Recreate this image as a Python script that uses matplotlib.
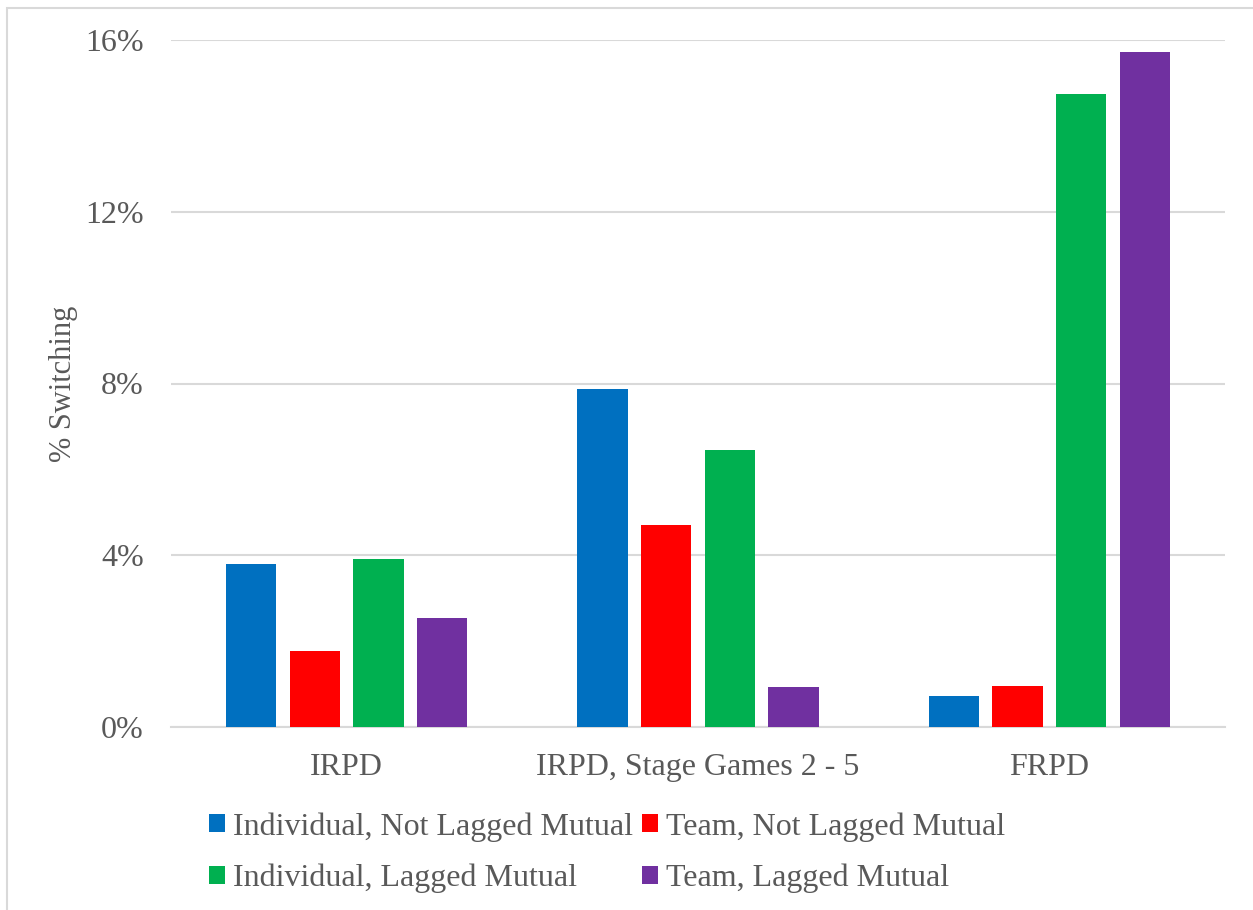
import matplotlib.pyplot as plt
import numpy as np
from matplotlib.patches import Patch, Rectangle
from matplotlib.ticker import FuncFormatter

categories = ['IRPD', 'IRPD, Stage Games 2 - 5', 'FRPD']
series_names = ['Individual, Not Lagged Mutual', 'Team, Not Lagged Mutual',
                'Individual, Lagged Mutual', 'Team, Lagged Mutual']
ind_not_lagged = [3.80, 7.87, 0.72]
team_not_lagged = [1.77, 4.70, 0.95]
ind_lagged = [3.91, 6.45, 14.74]
team_lagged = [2.54, 0.93, 15.72]
y_ticks = [0, 4, 8, 12, 16]

colors = ['#0070C0', '#FF0000', '#00B050', '#7030A0']
text_color = '#595959'
font = 'Liberation Serif'

plt.rcParams['font.family'] = font

fig = plt.figure(figsize=(12.53, 9.10), dpi=100)
W, H = 1253, 910
# light chart border
fig.patches.append(Rectangle((7 / W, -0.1), 1.5, 1 - 8 / H + 0.1, transform=fig.transFigure,
                             fill=False, edgecolor='#D9D9D9', linewidth=1.5))

ax = fig.add_axes([171 / W, 1 - 727 / H, (1225 - 171) / W, (727 - 40) / H])

x = np.arange(len(categories))
step = 0.181
width = 0.143
all_series = [ind_not_lagged, team_not_lagged, ind_lagged, team_lagged]
for i, (vals, c) in enumerate(zip(all_series, colors)):
    ax.bar(x + (i - 1.5) * step, vals, width, color=c, zorder=3)

ax.set_xlim(-0.5, len(categories) - 0.5)
ax.set_ylim(0, 16)
ax.set_yticks(y_ticks)
ax.yaxis.set_major_formatter(FuncFormatter(lambda v, p: '{:.0f}%'.format(v)))
ax.grid(axis='y', color='#D9D9D9', linewidth=1.5, zorder=0)
for s in ['top', 'right', 'left']:
    ax.spines[s].set_visible(False)
ax.spines['bottom'].set_color('#D9D9D9')
ax.spines['bottom'].set_linewidth(1.5)
ax.tick_params(axis='both', length=0, labelsize=23, colors=text_color)
ax.tick_params(axis='y', pad=19.6)
ax.tick_params(axis='x', pad=19)
ax.set_xticks(x)
ax.set_xticklabels(categories)
ax.set_ylabel('% Switching', fontsize=22, color=text_color, labelpad=5)

# legend fills column by column, so order handles to get rows: blue/red, green/purple
handles = [Patch(facecolor=colors[i], label=series_names[i]) for i in [0, 2, 1, 3]]
fig.legend(handles=handles, ncol=2, loc='upper left', bbox_to_anchor=(209 / W, 1 - 812 / H),
           frameon=False, fontsize=23, labelcolor=text_color, handlelength=0.5, handleheight=0.5,
           handletextpad=0.25, columnspacing=0.28, labelspacing=0.7, borderpad=0,
           borderaxespad=0)

fig.savefig('out.png', dpi=100)
